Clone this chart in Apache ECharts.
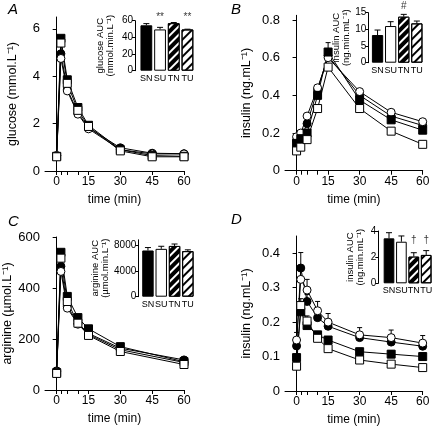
<!DOCTYPE html>
<html>
<head>
<meta charset="utf-8">
<script src="https://cdn.jsdelivr.net/npm/echarts@6/dist/echarts.min.js"></script>
<style>html,body{margin:0;padding:0;background:#fff}#c{width:435px;height:428px}</style>
</head>
<body>
<div id="c"></div>
<script>
// ---- data ----
const times = [0, 2, 5, 10, 15, 30, 45, 60];
const groups = ['SN', 'SU', 'TN', 'TU'];
const xTickValues = [0, 2, 5, 10, 15, 30, 45, 60];
const xLabelValues = [0, 15, 30, 45, 60];

// Panel A: glucose (mmol/L)
const glucoseSN = [0.65, 4.95, 3.45, 2.45, 1.82, 0.98, 0.75, 0.73];
const glucoseSU = [0.65, 4.75, 3.38, 2.40, 1.78, 0.90, 0.72, 0.72];
const glucoseTN = [0.62, 5.60, 3.85, 2.68, 1.93, 0.90, 0.65, 0.62];
const glucoseTU = [0.60, 5.40, 3.70, 2.56, 1.88, 0.85, 0.60, 0.60];
const glucoseAUC = [54.5, 49.5, 57, 49.5];
const glucoseAUCerr = [2, 2.5, 0.8, 0.3];
const glucoseSig = ['', '**', '', '**'];
const glucoseTicks = [0, 2, 4, 6];
const glucoseAUCTicks = [0, 20, 40, 60];

// Panel B: insulin (ng/mL), experiment 1
const insulinB_SN = [0.16, 0.17, 0.25, 0.43, 0.61, 0.40, 0.29, 0.24];
const insulinB_SU = [0.18, 0.20, 0.29, 0.44, 0.60, 0.42, 0.31, 0.26];
const insulinB_TN = [0.145, 0.17, 0.20, 0.40, 0.63, 0.375, 0.27, 0.215];
const insulinB_TU = [0.105, 0.125, 0.165, 0.33, 0.55, 0.33, 0.21, 0.14];
const insulinB_TNerr = [0, 0, 0, 0, 0.05, 0, 0, 0];
const insulinB_AUC = [8.3, 11, 13.8, 11.8];
const insulinB_AUCerr = [1.5, 1.3, 0.7, 0.7];
const insulinB_Sig = ['', '', '#', ''];
const insulinB_Ticks = [0, 0.2, 0.4, 0.6, 0.8];
const insulinB_AUCTicks = [0, 5, 10, 15];

// Panel C: arginine (umol/L)
const arginineSN = [75, 485, 328, 262, 222, 164, null, 118];
const arginineSU = [72, 465, 321, 258, 218, 158, null, 108];
const arginineTN = [68, 540, 367, 284, 240, 170, null, 111];
const arginineTU = [65, 517, 347, 262, 214, 151, null, 100];
const arginineAUC = [7150, 7400, 7850, 7050];
const arginineAUCerr = [450, 400, 300, 200];
const arginineSig = ['', '', '', ''];
const arginineTicks = [0, 200, 400, 600];
const arginineAUCTicks = [0, 4000, 8000];

// Panel D: insulin (ng/mL), experiment 2
const insulinD_SN = [0.131, 0.357, 0.26, 0.213, 0.188, 0.155, 0.142, 0.13];
const insulinD_SU = [0.148, 0.324, 0.293, 0.233, 0.20, 0.163, 0.155, 0.139];
const insulinD_TN = [0.097, 0.23, 0.19, 0.163, 0.148, 0.114, 0.107, 0.10];
const insulinD_TU = [0.072, 0.248, 0.203, 0.153, 0.123, 0.09, 0.078, 0.068];
const insulinD_SNerr = [0.015, 0.045, 0.02, 0.015, 0.015, 0.015, 0.015, 0.015];
const insulinD_SUerr = [0.022, 0.03, 0.031, 0.027, 0.025, 0.021, 0.022, 0.022];
const insulinD_TNerr = [0.01, 0.015, 0.02, 0.01, 0.01, 0.01, 0.01, 0.01];
const insulinD_TUerr = [0.01, 0.02, 0.015, 0.01, 0.01, 0.01, 0.01, 0.01];
const insulinD_AUC = [3.44, 3.18, 2.04, 2.17];
const insulinD_AUCerr = [0.43, 0.44, 0.30, 0.33];
const insulinD_Sig = ['', '', '†', '†'];
const insulinD_Ticks = [0, 0.1, 0.2, 0.3, 0.4];
const insulinD_AUCTicks = [0, 2, 4];

// ---- styling / building ----
const FONT = '"Liberation Sans", Arial, sans-serif';
const chart = echarts.init(document.getElementById('c'), null, {renderer: 'canvas'});

const markerStyles = [
  {symbol: 'circle', fill: '#000'},
  {symbol: 'circle', fill: '#fff'},
  {symbol: 'rect', fill: '#000'},
  {symbol: 'rect', fill: '#fff'}
];
const barStyles = [
  {color: '#000'},
  {color: '#fff'},
  {color: '#000', decal: {symbol: 'rect', symbolSize: 1, dashArrayX: [1, 0], dashArrayY: [1.6, 3.4], rotation: -Math.PI / 4, color: '#fff'}},
  {color: '#fff', decal: {symbol: 'rect', symbolSize: 1, dashArrayX: [1, 0], dashArrayY: [1.4, 3.6], rotation: -Math.PI / 4, color: '#000'}}
];

function errRender(params, api) {
  const x = api.value(0), y = api.value(1), e = api.value(2);
  if (!e || y == null || isNaN(y)) return null;
  const p0 = api.coord([x, y]);
  const p1 = api.coord([x, y + e]);
  const hw = params.seriesName === 'barerr' ? 3 : 2.5;
  return {type: 'group', children: [
    {type: 'line', shape: {x1: p0[0], y1: p0[1], x2: p1[0], y2: p1[1]}, style: {stroke: '#000', lineWidth: 1}},
    {type: 'line', shape: {x1: p1[0] - hw, y1: p1[1], x2: p1[0] + hw, y2: p1[1]}, style: {stroke: '#000', lineWidth: 1}}
  ]};
}

const panels = [
  {main: {left: 45, top: 17, width: 139, height: 154}, ymax: 6.5, yTicks: glucoseTicks,
   series: [glucoseSN, glucoseSU, glucoseTN, glucoseTU], errs: [null, null, null, null],
   yName: 'glucose (mmol.L⁻¹)', yGap: 26,
   inset: {left: 139.5, top: 20.7, width: 54.8, height: 50}, iOffset: 4.5, iMax: 60, iTicks: glucoseAUCTicks,
   auc: glucoseAUC, aucErr: glucoseAUCerr, sig: glucoseSig, sigY: 64.5, iName: 'glucose AUC\n(mmol.min.L⁻¹)', iGap: 20},
  {main: {left: 285, top: 15.3, width: 137.7, height: 155.4}, ymax: 0.825, yTicks: insulinB_Ticks,
   series: [insulinB_SN, insulinB_SU, insulinB_TN, insulinB_TU], errs: [null, null, insulinB_TNerr, null],
   yName: 'insulin (ng.mL⁻¹)', yGap: 32,
   inset: {left: 371, top: 12.7, width: 52.4, height: 50}, iOffset: 2.7, iMax: 15, iTicks: insulinB_AUCTicks,
   auc: insulinB_AUC, aucErr: insulinB_AUCerr, sig: insulinB_Sig, sigY: 16.8, iName: 'insulin AUC\n(ng.min.mL⁻¹)', iGap: 15},
  {main: {left: 45, top: 237, width: 139, height: 153}, ymax: 600, yTicks: arginineTicks,
   series: [arginineSN, arginineSU, arginineTN, arginineTU], errs: [null, null, null, null],
   yName: 'arginine (µmol.L⁻¹)', yGap: 30,
   inset: {left: 141.3, top: 239.8, width: 53.2, height: 56.9}, iOffset: 3, iMax: 8800, iTicks: arginineAUCTicks,
   auc: arginineAUC, aucErr: arginineAUCerr, sig: arginineSig, sigY: 9500, iName: 'arginine AUC\n(µmol.min.L⁻¹)', iGap: 27},
  {main: {left: 285, top: 236, width: 137.7, height: 155}, ymax: 0.45, yTicks: insulinD_Ticks,
   series: [insulinD_SN, insulinD_SU, insulinD_TN, insulinD_TU], errs: [insulinD_SNerr, insulinD_SUerr, insulinD_TNerr, insulinD_TUerr],
   yName: 'insulin (ng.mL⁻¹)', yGap: 32,
   inset: {left: 382.8, top: 231, width: 51.2, height: 52.3}, iOffset: 4.5, iMax: 4, iTicks: insulinD_AUCTicks,
   auc: insulinD_AUC, aucErr: insulinD_AUCerr, sig: insulinD_Sig, sigY: 3.3, iName: 'insulin AUC\n(ng.min.mL⁻¹)', iGap: 13}
];

const grid = [], xAxis = [], yAxis = [], series = [];
const axisLine = {show: true, lineStyle: {color: '#000', width: 1}};
const plainNum = v => String(v);

panels.forEach((p, k) => {
  const gi = grid.length;
  grid.push(p.main);
  xAxis.push({type: 'value', gridIndex: gi, min: -5.5, max: 60,
    axisLine: Object.assign({onZero: false}, axisLine), splitLine: {show: false},
    axisTick: {show: true, length: 4, lineStyle: {color: '#000'}, customValues: xTickValues},
    axisLabel: {customValues: xLabelValues, color: '#000', fontSize: 12, fontFamily: FONT, margin: 5},
    name: 'time (min)', nameLocation: 'middle', nameGap: 23,
    nameTextStyle: {color: '#000', fontSize: 12, fontFamily: FONT}});
  yAxis.push({type: 'value', gridIndex: gi, min: 0, max: p.ymax,
    axisLine: axisLine, splitLine: {show: false},
    axisTick: {show: true, length: 4, lineStyle: {color: '#000'}, customValues: p.yTicks},
    axisLabel: {customValues: p.yTicks, color: '#000', fontSize: 13, fontFamily: FONT, margin: 5, formatter: plainNum},
    name: p.yName, nameLocation: 'middle', nameGap: p.yGap,
    nameTextStyle: {color: '#000', fontSize: 12.5, fontFamily: FONT}});
  p.series.forEach((vals, s) => {
    const ms = markerStyles[s];
    if (p.errs[s]) {
      series.push({type: 'custom', name: 'lineerr', xAxisIndex: gi, yAxisIndex: gi, renderItem: errRender,
        encode: {x: 0, y: 1}, clip: false, z: 1, silent: true,
        data: times.map((t, i) => [t, vals[i], p.errs[s][i]])});
    }
    series.push({type: 'line', name: groups[s], xAxisIndex: gi, yAxisIndex: gi,
      data: times.map((t, i) => [t, vals[i]]), connectNulls: true,
      symbol: ms.symbol, symbolSize: 8, showAllSymbol: true,
      itemStyle: {color: ms.fill, borderColor: '#000', borderWidth: 1, opacity: 1},
      lineStyle: {color: '#000', width: 1}, z: 2, silent: true});
  });

  // inset
  const ii = grid.length;
  grid.push(p.inset);
  xAxis.push({type: 'category', gridIndex: ii, data: groups,
    axisLine: {show: false}, axisTick: {show: false},
    axisLabel: {color: '#000', fontSize: 9, fontFamily: FONT, margin: 3, interval: 0}});
  yAxis.push({type: 'value', gridIndex: ii, min: 0, max: p.iMax, offset: p.iOffset,
    axisLine: axisLine, splitLine: {show: false},
    axisTick: {show: true, length: 3, lineStyle: {color: '#000'}, customValues: p.iTicks},
    axisLabel: {customValues: p.iTicks, color: '#000', fontSize: 10, fontFamily: FONT, margin: 2, formatter: plainNum},
    name: p.iName, nameLocation: 'middle', nameGap: p.iGap,
    nameTextStyle: {color: '#000', fontSize: 9.5, fontFamily: FONT, lineHeight: 10}});
  series.push({type: 'bar', xAxisIndex: ii, yAxisIndex: ii, barWidth: '86%', silent: true,
    data: p.auc.map((v, i) => ({value: v, itemStyle: Object.assign({borderColor: '#000', borderWidth: 1}, barStyles[i])})),
    z: 2});
  series.push({type: 'custom', name: 'barerr', xAxisIndex: ii, yAxisIndex: ii, renderItem: errRender,
    encode: {x: 0, y: 1}, clip: false, z: 1, silent: true,
    data: p.auc.map((v, i) => [i, v, p.aucErr[i]])});
  series.push({type: 'scatter', xAxisIndex: ii, yAxisIndex: ii, symbolSize: 0, clip: false, silent: true,
    data: p.sig.map((s, i) => ({value: [i, p.sigY], label: {show: !!s, formatter: s}})),
    label: {position: 'inside', color: '#000', fontSize: 10, fontFamily: FONT}});
});

const letters = [['A', 8, 2], ['B', 231, 2], ['C', 8, 214], ['D', 231, 212]];
const title = letters.map(l => ({text: l[0], left: l[1], top: l[2], padding: 0,
  textStyle: {fontStyle: 'italic', fontWeight: 'normal', fontSize: 15, color: '#000', fontFamily: FONT}}));

chart.setOption({animation: false, backgroundColor: '#fff', title, grid, xAxis, yAxis, series});
</script>
</body>
</html>
